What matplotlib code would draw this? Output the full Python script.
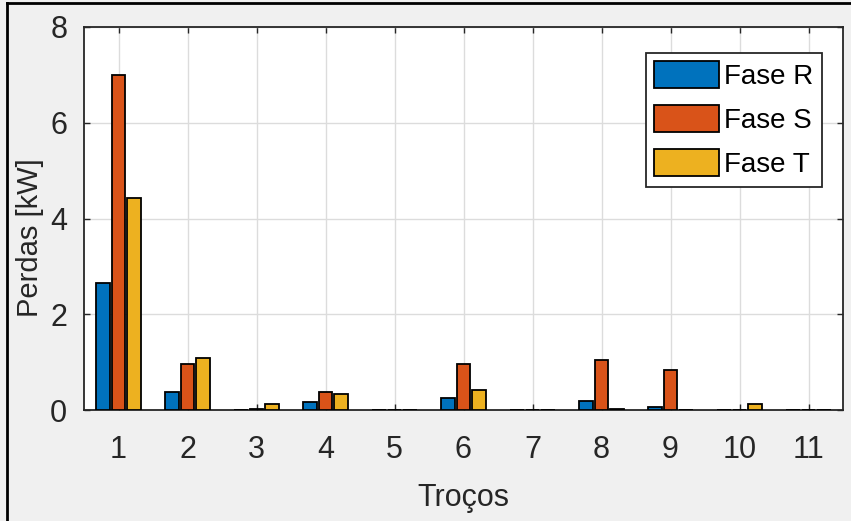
import numpy as np
import matplotlib
matplotlib.use("Agg")
import matplotlib.pyplot as plt
from matplotlib.lines import Line2D

plt.rcParams['font.family'] = ['Liberation Sans', 'DejaVu Sans']

trocos = [1, 2, 3, 4, 5, 6, 7, 8, 9, 10, 11]
fase_r = [2.65, 0.37, 0.0, 0.17, 0.0, 0.25, 0.0, 0.19, 0.07, 0.0, 0.0]
fase_s = [6.99, 0.97, 0.03, 0.38, 0.0, 0.96, 0.0, 1.04, 0.84, 0.0, 0.0]
fase_t = [4.43, 1.09, 0.13, 0.33, 0.0, 0.42, 0.0, 0.03, 0.0, 0.13, 0.0]
series = [("Fase R", fase_r, "#0072BD"),
          ("Fase S", fase_s, "#D95319"),
          ("Fase T", fase_t, "#EDB120")]

txt = "#262626"
fig = plt.figure(figsize=(8.51, 5.21), dpi=100, facecolor="#f0f0f0")
ax = fig.add_axes([84/851, 111/521, 759/851, 383/521])
ax.set_facecolor("white")

x = np.array(trocos)
w = 0.2
offs = [-0.222, 0.0, 0.222]
for (name, vals, col), o in zip(series, offs):
    ax.bar(x + o, vals, width=w, color=col, edgecolor="black", linewidth=1.3,
           label=name, zorder=3)

ax.set_xlim(0.5, 11.5)
ax.set_ylim(0, 8)
ax.set_xticks(trocos)
ax.set_yticks([0, 2, 4, 6, 8])
ax.grid(True, color="#dcdcdc", linewidth=1.0, zorder=0)
ax.set_axisbelow(True)
ax.tick_params(direction="in", length=4, width=1.0, colors=txt,
               labelsize=22, top=True, right=True)
ax.tick_params(axis="x", pad=18)
ax.tick_params(axis="y", pad=12)
for s in ax.spines.values():
    s.set_color(txt)
    s.set_linewidth(1.3)

ax.set_xlabel("Troços", fontsize=22, color=txt, labelpad=13)
ax.set_ylabel("Perdas [kW]", fontsize=21, color=txt)
ax.yaxis.set_label_coords(-0.0527, 0.45)

leg = ax.legend(loc="upper right", bbox_to_anchor=(0.9723, 0.932),
                fontsize=20, fancybox=False, framealpha=1, edgecolor=txt,
                handlelength=2.35, handleheight=1.1, labelspacing=0.55,
                handletextpad=0.18, borderpad=0.3, borderaxespad=0)
leg.get_frame().set_linewidth(1.3)

# screenshot border (top and left)
fig.add_artist(Line2D([7/851, 7/851], [0, 1 - 3/521], color="black",
                      linewidth=2, transform=fig.transFigure))
fig.add_artist(Line2D([7/851, 1], [1 - 3/521, 1 - 3/521], color="black",
                      linewidth=2, transform=fig.transFigure))

fig.savefig("out.png", dpi=100, facecolor=fig.get_facecolor())
